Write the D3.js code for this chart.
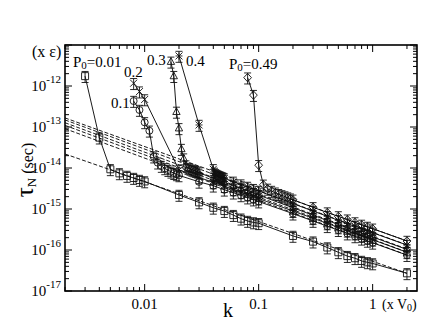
<!DOCTYPE html>
<html><head><meta charset="utf-8">
<script src="https://cdn.jsdelivr.net/npm/d3@7"></script>
<style>body{margin:0;background:#fff}svg{display:block}text{font-family:"Liberation Serif","DejaVu Serif",serif;fill:#000}</style>
</head><body><svg id="c" width="422" height="323"></svg>
<script>
// ---- data ----
const kP001 = [0.003,0.004,0.005,0.006,0.007,0.008,0.009,0.01,0.02,0.03,0.04,0.05,0.06,0.07,0.08,0.09,0.1,0.2,0.3,0.4,0.5,0.6,0.7,0.8,0.9,1,2];
const tP001 = [1.74e-12,5.5e-14,9.3e-15,7.4e-15,6.4e-15,5.7e-15,5.1e-15,4.7e-15,2.2e-15,1.45e-15,1.07e-15,8.9e-16,7.1e-16,5.8e-16,5.1e-16,4.7e-16,4.5e-16,2.2e-16,1.6e-16,1.15e-16,8.8e-17,7.1e-17,6.3e-17,5.4e-17,5.0e-17,4.7e-17,2.7e-17];
const kP01 = [0.008,0.009,0.01,0.011,0.012,0.013,0.014,0.015,0.016,0.017,0.018,0.019,0.02,0.03,0.04,0.05,0.06,0.07,0.08,0.09,0.1,0.2,0.3,0.4,0.5,0.6,0.7,0.8,0.9,1,2];
const tP01 = [4.3e-13,2.6e-13,1.3e-13,8.1e-14,1.9e-14,1.35e-14,1.12e-14,9.8e-15,8.9e-15,8.1e-15,7.5e-15,7.0e-15,6.6e-15,4.6e-15,3.7e-15,2.95e-15,2.5e-15,2.15e-15,1.9e-15,1.7e-15,1.52e-15,7.7e-16,5.1e-16,3.8e-16,3.05e-16,2.52e-16,2.15e-16,1.88e-16,1.67e-16,1.5e-16,7.5e-17];
const kP02 = [0.008,0.009,0.01,0.02,0.03,0.04,0.05,0.06,0.07,0.08,0.09,0.1,0.2,0.3,0.4,0.5,0.6,0.7,0.8,0.9,1,2];
const tP02 = [1.17e-12,7.3e-13,4.7e-13,9.0e-15,5.9e-15,4.45e-15,3.6e-15,3.0e-15,2.55e-15,2.25e-15,2.0e-15,1.8e-15,8.9e-16,5.95e-16,4.45e-16,3.55e-16,2.95e-16,2.52e-16,2.2e-16,1.97e-16,1.78e-16,8.8e-17];
const kP03 = [0.017,0.018,0.019,0.02,0.021,0.022,0.023,0.024,0.025,0.026,0.027,0.028,0.029,0.03,0.04,0.05,0.06,0.07,0.08,0.09,0.1,0.2,0.3,0.4,0.5,0.6,0.7,0.8,0.9,1,2];
const tP03 = [3.9e-12,1.74e-12,2.34e-13,9.3e-14,2.9e-14,1.7e-14,1.15e-14,1.0e-14,9.5e-15,9.0e-15,8.7e-15,8.4e-15,8.1e-15,7.7e-15,5.6e-15,4.45e-15,3.7e-15,3.15e-15,2.75e-15,2.43e-15,2.18e-15,1.07e-15,7.05e-16,5.25e-16,4.2e-16,3.45e-16,2.95e-16,2.58e-16,2.3e-16,2.07e-16,1.03e-16];
const kP04 = [0.02,0.03,0.04,0.041,0.042,0.043,0.044,0.045,0.046,0.047,0.048,0.049,0.05,0.06,0.07,0.08,0.09,0.1,0.2,0.3,0.4,0.5,0.6,0.7,0.8,0.9,1,2];
const tP04 = [5.4e-12,1.12e-13,9.3e-15,7.6e-15,7.0e-15,6.7e-15,6.5e-15,6.3e-15,6.15e-15,6.0e-15,5.85e-15,5.7e-15,5.55e-15,4.6e-15,3.95e-15,3.45e-15,3.05e-15,2.75e-15,1.35e-15,8.9e-16,6.65e-16,5.3e-16,4.4e-16,3.78e-16,3.3e-16,2.93e-16,2.63e-16,1.32e-16];
const kP049 = [0.08,0.09,0.1,0.11,0.12,0.13,0.14,0.15,0.16,0.17,0.18,0.19,0.2,0.3,0.4,0.5,0.6,0.7,0.8,0.9,1,2];
const tP049 = [1.6e-12,6.0e-13,1.17e-14,3.9e-15,3.1e-15,2.75e-15,2.5e-15,2.3e-15,2.15e-15,2.02e-15,1.9e-15,1.79e-15,1.68e-15,1.1e-15,8.2e-16,6.6e-16,5.5e-16,4.7e-16,4.1e-16,3.65e-16,3.3e-16,1.66e-16];
// power-law fits tau = A * k^-s (dashed)
const fitA = [5.3e-17,1.54e-16,1.82e-16,2.15e-16,2.69e-16,3.33e-16];
const fitS = [0.97,1.027,1.03,1.027,1.016,1.0];
const fitRange = [0.002, 2];
const relErr = 0.3;
const symbols = ["square","circle","x","triangle","star","diamond"];
const xTicks = [0.01,0.1,1];
const xTickLabels = ["0.01","0.1","1"];
const yTicks = [1e-17,1e-16,1e-15,1e-14,1e-13,1e-12];
const yTickExp = ["-17","-16","-15","-14","-13","-12"];

const series = [[kP001,tP001],[kP01,tP01],[kP02,tP02],[kP03,tP03],[kP04,tP04],[kP049,tP049]];

// ---- layout ----
const L=65,R=417,T=45,B=291;
const svg=d3.select("#c");
const x=d3.scaleLog().domain([0.002,2.45]).range([L,R]);
const y=d3.scaleLog().domain([1e-17,1e-11]).range([B,T]);

const plot=svg.append("g");
plot.append("clipPath").attr("id","clip").append("rect").attr("x",L).attr("y",T).attr("width",R-L).attr("height",B-T);
const g=plot.append("g").attr("clip-path","url(#clip)");

// dashed fits
fitA.forEach((A,i)=>{
  const pts=[fitRange[0],fitRange[1]].map(k=>[x(k),y(A*Math.pow(k,-fitS[i]))]);
  g.append("path").attr("d",d3.line()(pts)).attr("fill","none").attr("stroke","#000")
   .attr("stroke-width",0.9).attr("stroke-dasharray","4,2");
});

const line=d3.line().x(d=>x(d[0])).y(d=>y(d[1]));
function sym(type,s){
  const h=s/2;
  switch(type){
    case "square": return `M${-h},${-h}h${s}v${s}h${-s}Z`;
    case "circle": return `M${h},0A${h},${h} 0 1 1 ${-h},0A${h},${h} 0 1 1 ${h},0Z`;
    case "x": return `M${-h},${-h}L${h},${h}M${h},${-h}L${-h},${h}`;
    case "triangle": return `M0,${-h*1.15}L${h*1.05},${h*0.75}L${-h*1.05},${h*0.75}Z`;
    case "star": return `M${-h},${-h}L${h},${h}M${h},${-h}L${-h},${h}M${-h},0L${h},0M0,${-h}L0,${h}`;
    case "diamond": return `M0,${-h*1.2}L${h*1.1},0L0,${h*1.2}L${-h*1.1},0Z`;
  }
}
series.forEach(([ks,ts],i)=>{
  const d=ks.map((k,j)=>[k,ts[j]]);
  g.append("path").attr("d",line(d)).attr("fill","none").attr("stroke","#000").attr("stroke-width",0.9);
  const pg=g.append("g").attr("stroke","#111").attr("fill","none").attr("stroke-width",0.9);
  d.forEach(p=>{
    const px=x(p[0]),py=y(p[1]);
    const yt=y(p[1]*(1+relErr)), yb=y(p[1]*(1-relErr));
    pg.append("path").attr("d",`M${px},${yt}V${yb}M${px-3.5},${yt}H${px+3.5}M${px-3.5},${yb}H${px+3.5}`);
    pg.append("path").attr("transform",`translate(${px},${py})`).attr("d",sym(symbols[i],7));
  });
});

// frame & ticks (inward on all sides)
const ax=svg.append("g").attr("stroke","#000").attr("fill","none");
ax.append("rect").attr("x",L).attr("y",T).attr("width",R-L).attr("height",B-T).attr("stroke-width",1.6);
const xAll=[];
for(let e=-3;e<=0;e++) for(let m=1;m<=9;m++){const v=m*Math.pow(10,e); if(v>=0.002&&v<=2.45) xAll.push([v,m===1]);}
xAll.forEach(([v,maj])=>{
  const px=x(v),len=maj?7:4;
  ax.append("line").attr("x1",px).attr("x2",px).attr("y1",B).attr("y2",B-len).attr("stroke-width",1);
  ax.append("line").attr("x1",px).attr("x2",px).attr("y1",T).attr("y2",T+len).attr("stroke-width",1);
});
const yAll=[];
for(let e=-17;e<=-12;e++) for(let m=1;m<=9;m++){yAll.push([m*Math.pow(10,e),m===1]);}
yAll.push([1e-11,true]);
yAll.forEach(([v,maj])=>{
  const py=y(v),len=maj?7:4;
  ax.append("line").attr("y1",py).attr("y2",py).attr("x1",L).attr("x2",L+len).attr("stroke-width",1);
  ax.append("line").attr("y1",py).attr("y2",py).attr("x1",R).attr("x2",R-len).attr("stroke-width",1);
});

// tick labels
xTicks.forEach((v,i)=>{
  svg.append("text").attr("x",x(v)).attr("y",309).attr("text-anchor","middle").attr("font-size",15).text(xTickLabels[i]);
});
const xv=svg.append("text").attr("x",382).attr("y",309).attr("font-size",14);
xv.append("tspan").text("(x V");
xv.append("tspan").attr("font-size",10).attr("dy",2).text("0");
xv.append("tspan").attr("dy",-2).text(")");
yTicks.forEach((v,i)=>{
  const t=svg.append("text").attr("x",61).attr("y",y(v)+5).attr("text-anchor","end").attr("font-size",15);
  t.append("tspan").text("10");
  t.append("tspan").attr("font-size",11).attr("dy",-8).text(yTickExp[i]);
});
svg.append("text").attr("x",228).attr("y",317).attr("text-anchor","middle").attr("font-size",20).text("k");
svg.append("text").attr("x",32).attr("y",57).attr("font-size",16).text("(x ε)");
const yl=svg.append("text").attr("transform","translate(33,170) rotate(-90)").attr("text-anchor","middle");
yl.append("tspan").attr("font-size",25).text("τ");
yl.append("tspan").attr("font-size",13).attr("dy",3).text("N");
yl.append("tspan").attr("font-size",16).attr("dy",-3).text(" (sec)");

// annotations
function ann(xp,yp,lab,withP){
  const t=svg.append("text").attr("x",xp).attr("y",yp).attr("font-size",15);
  if(withP){
    t.append("tspan").text("P");
    t.append("tspan").attr("font-size",11).attr("dy",2).text("0");
    t.append("tspan").attr("dy",-2).text("="+lab);
  } else t.text(lab);
}
ann(73,67,"0.01",true);
ann(111,108,"0.1",false);
ann(124,77,"0.2",false);
ann(147,65,"0.3",false);
ann(186,66,"0.4",false);
ann(229,69,"0.49",true);
</script></body></html>
